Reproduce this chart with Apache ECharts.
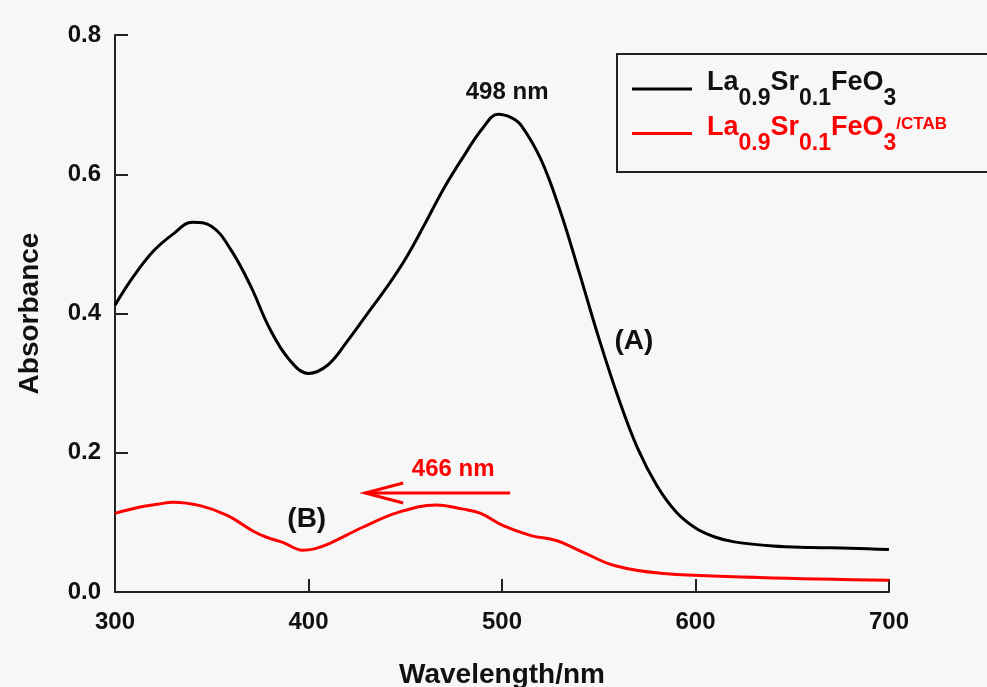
<!DOCTYPE html>
<html>
<head>
<meta charset="utf-8">
<title>UV-Vis absorbance</title>
<script src="https://cdn.jsdelivr.net/npm/echarts@6/dist/echarts.min.js"></script>
<style>
  html, body { margin: 0; padding: 0; background: #f7f7f7; }
  #chart { width: 987px; height: 687px; }
</style>
</head>
<body>
<div id="chart"></div>
<script>
// Series names
const seriesNames = ['La0.9Sr0.1FeO3', 'La0.9Sr0.1FeO3/CTAB'];

// Wavelength (nm) / absorbance pairs for each sample
const wavelengthA = [300, 310, 320, 330, 340, 350, 360, 370, 380, 390, 400, 410, 420, 430, 440, 450, 460, 470, 480, 490, 498, 505, 510, 520, 530, 540, 550, 560, 570, 580, 590, 600, 610, 620, 640, 660, 680, 700];
const absorbanceA = [0.412, 0.455, 0.490, 0.514, 0.531, 0.525, 0.491, 0.440, 0.378, 0.334, 0.314, 0.326, 0.360, 0.398, 0.436, 0.478, 0.528, 0.580, 0.625, 0.666, 0.686, 0.681, 0.670, 0.622, 0.548, 0.458, 0.365, 0.280, 0.207, 0.153, 0.115, 0.092, 0.079, 0.072, 0.066, 0.064, 0.063, 0.061];

const wavelengthB = [300, 313, 322, 330, 344, 358, 371, 378, 387, 397, 403, 411, 428, 446, 466, 480, 489, 500, 515, 528, 542, 558, 582, 633, 700];
const absorbanceB = [0.113, 0.122, 0.126, 0.129, 0.124, 0.110, 0.088, 0.079, 0.071, 0.060, 0.062, 0.070, 0.093, 0.114, 0.125, 0.119, 0.113, 0.096, 0.081, 0.074, 0.057, 0.038, 0.027, 0.021, 0.017];

// Axis ticks
const xTicks = [300, 400, 500, 600, 700];
const yTicks = [0.0, 0.2, 0.4, 0.6, 0.8];

// Peak annotations
const peakA = 498;
const peakB = 466;

const FONT = 'Liberation Sans, Arial, sans-serif';
const zip = (xs, ys) => xs.map((x, i) => [x, ys[i]]);

const chart = echarts.init(document.getElementById('chart'), null, { renderer: 'canvas' });

const axisCommon = {
  axisLine: { show: true, onZero: false, lineStyle: { color: '#222', width: 2 } },
  axisTick: { show: true, inside: true, length: 13, lineStyle: { color: '#222', width: 2 } },
  splitLine: { show: false },
  nameTextStyle: { fontFamily: FONT, fontWeight: 'bold', fontSize: 28, color: '#111' },
  axisLabel: { fontFamily: FONT, fontWeight: 'bold', fontSize: 24, color: '#111' }
};

// Rich-text pieces for the chemical formulas in the legend
const mainStyle = (color) => ({ fontFamily: FONT, fontWeight: 'bold', fontSize: 27, lineHeight: 30, height: 30, verticalAlign: 'top', color });
const subStyle = (color) => ({ fontFamily: FONT, fontWeight: 'bold', fontSize: 23, lineHeight: 22, height: 22, verticalAlign: 'bottom', color });
const supStyle = (color) => ({ fontFamily: FONT, fontWeight: 'bold', fontSize: 17, lineHeight: 23, height: 23, verticalAlign: 'top', color });

chart.setOption({
  backgroundColor: '#f7f7f7',
  animation: false,
  grid: { left: 115, right: 98, top: 35, bottom: 95, containLabel: false, outerBoundsMode: 'none' },
  xAxis: Object.assign({}, axisCommon, {
    type: 'value',
    min: 300, max: 700, interval: 100,
    name: 'Wavelength/nm', nameLocation: 'middle', nameGap: 69,
    axisLabel: Object.assign({}, axisCommon.axisLabel, {
      margin: 18,
      formatter: (v) => xTicks.includes(v) ? String(v) : ''
    })
  }),
  yAxis: Object.assign({}, axisCommon, {
    type: 'value',
    min: 0, max: 0.8, interval: 0.2,
    name: 'Absorbance', nameLocation: 'middle', nameGap: 71,
    axisLabel: Object.assign({}, axisCommon.axisLabel, {
      margin: 14,
      formatter: (v) => {
        const t = yTicks.find((y) => Math.abs(y - v) < 1e-6);
        return t === undefined ? '' : t.toFixed(1);
      }
    })
  }),
  legend: {
    orient: 'vertical',
    left: 617, top: 54,
    padding: [14, 60, 17, 15],
    itemGap: 2,
    itemWidth: 60, itemHeight: 3,
    icon: 'rect',
    borderColor: '#222', borderWidth: 2,
    data: seriesNames,
    formatter: (name) => {
      const r = name === seriesNames[1];
      const m = r ? 'mr' : 'm', s = r ? 'sr' : 's';
      let txt = `{gap|}{${m}|La}{${s}|0.9}{${m}|Sr}{${s}|0.1}{${m}|FeO}{${s}|3}`;
      if (r) txt += '{pr|/CTAB}';
      return txt;
    },
    textStyle: {
      rich: {
        gap: { width: 10, height: 42, lineHeight: 42 },
        m: mainStyle('#111'), s: subStyle('#111'),
        mr: mainStyle('#ff0000'), sr: subStyle('#ff0000'), pr: supStyle('#ff0000')
      }
    }
  },
  series: [
    {
      name: seriesNames[0], type: 'line',
      data: zip(wavelengthA, absorbanceA),
      smooth: 0.4, showSymbol: false, symbol: 'none',
      lineStyle: { color: '#000', width: 3 }, itemStyle: { color: '#000' }
    },
    {
      name: seriesNames[1], type: 'line',
      data: zip(wavelengthB, absorbanceB),
      smooth: 0.4, showSymbol: false, symbol: 'none',
      lineStyle: { color: '#ff0000', width: 3 }, itemStyle: { color: '#ff0000' }
    }
  ]
});

// Annotations positioned from data coordinates
const px = (x, y) => chart.convertToPixel({ gridIndex: 0 }, [x, y]);
const topA = px(peakA, absorbanceA[wavelengthA.indexOf(peakA)]);
const topB = px(peakB, absorbanceB[wavelengthB.indexOf(peakB)]);
const arrowY = topB[1] - 12;
const arrowTail = topB[0] + 74;
const arrowHead = topB[0] - 71;
const labelA = px(549, 0.36);
const labelB = px(396, 0.11);

chart.setOption({
  graphic: [
    {
      type: 'text', x: topA[0] + 9, y: topA[1] - 22,
      style: { text: peakA + ' nm', fontFamily: FONT, fontWeight: 'bold', fontSize: 24, fill: '#111', align: 'center', verticalAlign: 'middle' }
    },
    {
      type: 'text', x: topB[0] + 17, y: topB[1] - 36,
      style: { text: peakB + ' nm', fontFamily: FONT, fontWeight: 'bold', fontSize: 24, fill: '#ff0000', align: 'center', verticalAlign: 'middle' }
    },
    {
      type: 'polyline',
      shape: { points: [[arrowTail, arrowY], [arrowHead, arrowY]] },
      style: { stroke: '#ff0000', lineWidth: 3, fill: null }
    },
    {
      type: 'polyline',
      shape: { points: [[arrowHead + 38, arrowY - 10], [arrowHead, arrowY], [arrowHead + 38, arrowY + 10]] },
      style: { stroke: '#ff0000', lineWidth: 3, fill: null }
    },
    {
      type: 'text', x: labelA[0] + 37, y: labelA[1],
      style: { text: '(A)', fontFamily: FONT, fontWeight: 'bold', fontSize: 28, fill: '#111', align: 'center', verticalAlign: 'middle' }
    },
    {
      type: 'text', x: labelB[0] + 6, y: labelB[1] + 4,
      style: { text: '(B)', fontFamily: FONT, fontWeight: 'bold', fontSize: 28, fill: '#111', align: 'center', verticalAlign: 'middle' }
    }
  ]
});
</script>
</body>
</html>
